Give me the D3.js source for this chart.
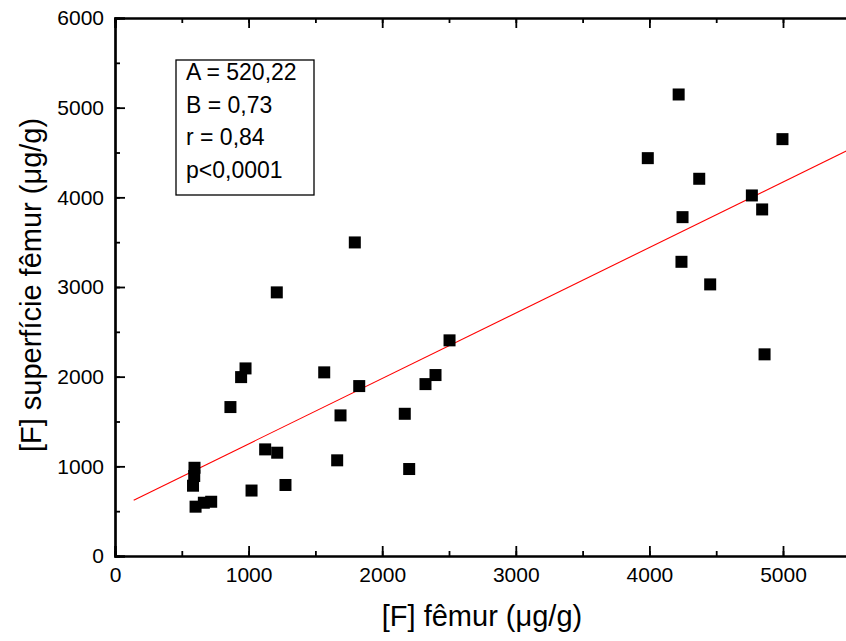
<!DOCTYPE html>
<html>
<head>
<meta charset="utf-8">
<script src="https://cdn.jsdelivr.net/npm/d3@7"></script>
<style>
body { margin: 0; background: #fff; }
svg { display: block; font-family: "Liberation Sans", Arial, sans-serif; }
</style>
</head>
<body>
<div id="vis"></div>
<script>
// [F] femur vs [F] superficie femur (ug/g)
var femur = [864, 944, 977, 1211, 1795, 1566, 1828, 2324, 2399, 2504,
	1688, 2169, 1124, 1214, 1663, 2202, 595, 593, 584, 1022,
	1276, 603, 665, 720, 4219, 4996, 3988, 4373, 4767, 4844,
	4248, 4240, 4455, 4862];
var superficie = [1661, 1995, 2092, 2940, 3497, 2048, 1895, 1917, 2018, 2405,
	1568, 1586, 1189, 1152, 1067, 970, 984, 892, 784, 730,
	792, 550, 594, 605, 5147, 4649, 4437, 4207, 4021, 3865,
	3779, 3281, 3029, 2249];
var xTicks = [0, 1000, 2000, 3000, 4000, 5000];
var yTicks = [0, 1000, 2000, 3000, 4000, 5000, 6000];
var fitA = 520.22, fitB = 0.73;
var fitRange = [140, 5500];
var stats = ["A = 520,22", "B = 0,73", "r = 0,84", "p<0,0001"];

var w = 846, h = 641;
var svg = d3.select("#vis").append("svg")
	.attr("width", w)
	.attr("height", h);

var x = d3.scaleLinear().domain([0, 5500]).range([115, 849.8]);
var y = d3.scaleLinear().domain([0, 6000]).range([556, 18]);

var minorX = d3.range(0, 5501, 500);
var minorY = d3.range(0, 6001, 500);

var plot = svg.append("g");

// clip for the fit line
svg.append("clipPath").attr("id", "clip")
	.append("rect")
	.attr("x", 115).attr("y", 18)
	.attr("width", 735).attr("height", 538);

// fit line
plot.append("line")
	.attr("clip-path", "url(#clip)")
	.attr("x1", x(fitRange[0])).attr("y1", y(fitA + fitB * fitRange[0]))
	.attr("x2", x(fitRange[1])).attr("y2", y(fitA + fitB * fitRange[1]))
	.attr("stroke", "#ff0000")
	.attr("stroke-width", 1.1);

// points
var pts = femur.map(function(d, i){ return [d, superficie[i]]; });
plot.selectAll("rect.pt")
	.data(pts)
	.enter()
	.append("rect")
	.attr("class", "pt")
	.attr("width", 12)
	.attr("height", 12)
	.attr("x", function(d){ return x(d[0]) - 6; })
	.attr("y", function(d){ return y(d[1]) - 6; })
	.attr("fill", "#000");

function styleAxis(g)
{
	g.selectAll("path.domain").attr("stroke-width", 2.2);
	g.selectAll(".tick line").attr("stroke-width", 1.8);
	g.selectAll("text")
		.attr("font-family", "Liberation Sans, Arial, sans-serif")
		.attr("font-size", 21)
		.attr("fill", "#000");
}

// minor ticks (no labels)
svg.append("g").attr("transform", "translate(0,556)")
	.call(d3.axisBottom(x).tickValues(minorX).tickSize(-5).tickFormat(""))
	.call(styleAxis);
svg.append("g").attr("transform", "translate(0,18)")
	.call(d3.axisTop(x).tickValues(minorX).tickSize(-5).tickFormat(""))
	.call(styleAxis);
svg.append("g").attr("transform", "translate(115,0)")
	.call(d3.axisLeft(y).tickValues(minorY).tickSize(-5).tickFormat(""))
	.call(styleAxis);

// major ticks
svg.append("g").attr("transform", "translate(0,556)")
	.call(d3.axisBottom(x).tickValues(xTicks).tickSize(-10).tickPadding(11).tickFormat(d3.format("d")))
	.call(styleAxis);
svg.append("g").attr("transform", "translate(0,18)")
	.call(d3.axisTop(x).tickValues(xTicks).tickSize(-10).tickFormat(""))
	.call(styleAxis);
svg.append("g").attr("transform", "translate(115,0)")
	.call(d3.axisLeft(y).tickValues(yTicks).tickSize(-10).tickPadding(11).tickFormat(d3.format("d")))
	.call(styleAxis);

// stats box
svg.append("rect")
	.attr("x", 176).attr("y", 60)
	.attr("width", 138).attr("height", 135)
	.attr("fill", "#fff")
	.attr("stroke", "#000")
	.attr("stroke-width", 1.3);

svg.selectAll("text.stat")
	.data(stats)
	.enter()
	.append("text")
	.attr("class", "stat")
	.attr("x", 186)
	.attr("y", function(d, i){ return 80 + i * 32.5; })
	.attr("font-size", 23)
	.text(function(d){ return d; });

// axis titles
svg.append("text")
	.attr("x", 482).attr("y", 626)
	.attr("text-anchor", "middle")
	.attr("font-size", 29)
	.text("[F] fêmur (μg/g)");

svg.append("text")
	.attr("transform", "translate(41,285) rotate(-90)")
	.attr("text-anchor", "middle")
	.attr("font-size", 29)
	.text("[F] superfície fêmur (μg/g)");
</script>
</body>
</html>
